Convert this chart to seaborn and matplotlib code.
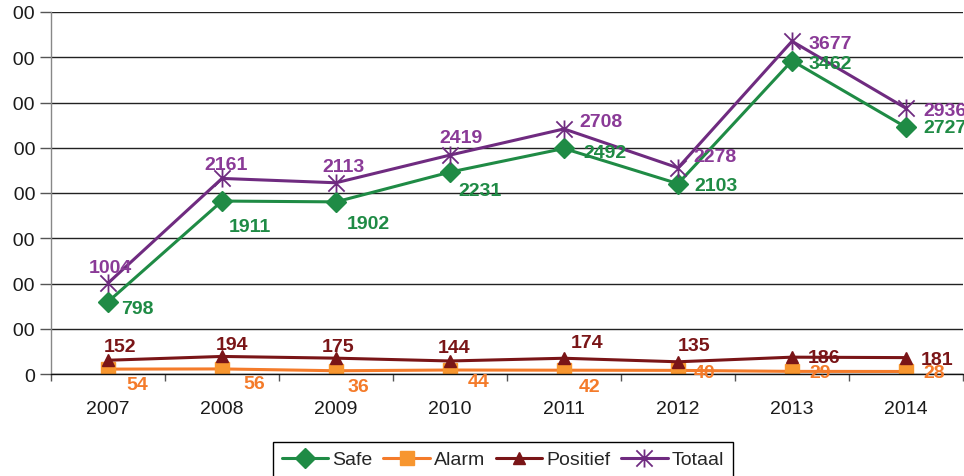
import numpy as np
import pandas as pd
import matplotlib
matplotlib.use("Agg")
import matplotlib.pyplot as plt
from matplotlib.path import Path
from matplotlib.patches import Rectangle
import seaborn as sns

# data
years = ["2007", "2008", "2009", "2010", "2011", "2012", "2013", "2014"]
safe = [798, 1911, 1902, 2231, 2492, 2103, 3462, 2727]
alarm = [54, 56, 36, 44, 42, 40, 29, 28]
positief = [152, 194, 175, 144, 174, 135, 186, 181]
totaal = [1004, 2161, 2113, 2419, 2708, 2278, 3677, 2936]
y_ticks = [0, 500, 1000, 1500, 2000, 2500, 3000, 3500, 4000]

df = pd.DataFrame({"jaar": years, "Safe": safe, "Alarm": alarm,
                   "Positief": positief, "Totaal": totaal})
df["pos"] = np.arange(len(df))

# label offsets in pixels (dx from point to left of text, dy down)
off_safe = [(13, 7), (7, 25), (11, 22), (8, 18), (19, 4), (16, 2), (17, 3), (17, 0)]
off_alarm = [(18, 15), (21, 15), (12, 16), (18, 11), (15, 16), (16, 2), (17, 1), (17, 1)]
off_pos = [(-4, -14), (-6, -12), (-14, -12), (-12, -13), (7, -16), (0, -16), (16, 0), (15, 2)]
off_tot = [(-19, -16), (-18, -14), (-14, -16), (-11, -18), (15, -7), (15, -11), (17, 2), (17, 2)]

sns.set_theme(style="white")
plt.rcParams['font.family'] = ['Liberation Sans', 'DejaVu Sans']

W, H = 964, 477
FS = 14
fig = plt.figure(figsize=(W / 100, H / 100), dpi=100)
ax = fig.add_axes([51 / W, 1 - 375 / H, (963 - 51) / W, (375 - 13) / H])

# asterisk marker: vertical bar + X
star = Path([(0, -1), (0, 1), (-0.9, -0.9), (0.9, 0.9), (-0.9, 0.9), (0.9, -0.9)],
            [Path.MOVETO, Path.LINETO] * 3)

series = [
    ("Safe", "#1F8B45", "D", 10, "#1F8B45", "#1F8B45", "#1F8B45", off_safe),
    ("Alarm", "#F47B2A", "s", 10.5, "#F7962F", "#F7962F", "#F47B2A", off_alarm),
    ("Positief", "#7A1517", "^", 8, "#7A1517", "#7A1517", "#7A1517", off_pos),
    ("Totaal", "#6F2B80", star, 13, "none", "#6F2B80", "#8A3A97", off_tot),
]

handles = []
for name, lc, mk, ms, mfc, mec, tc, offs in series:
    sns.lineplot(data=df, x="pos", y=name, ax=ax, color=lc, marker=mk,
                 markersize=ms, markerfacecolor=mfc, markeredgecolor=mec,
                 markeredgewidth=1.3 if name == "Totaal" else 1,
                 linewidth=2.2, legend=False)
    line = ax.lines[-1]
    line.set_label(name)
    handles.append(line)
    for xi, v, (dx, dy) in zip(df["pos"], df[name], offs):
        ax.annotate(str(v), (xi, v), xytext=(dx * 0.72, -dy * 0.72),
                    textcoords="offset points", ha="left", va="center",
                    fontsize=FS, fontweight="bold", color=tc,
                    annotation_clip=False, zorder=5)

ax.set_xlim(-0.5, 7.5)
ax.set_ylim(0, 4000)
ax.set_xlabel("")
ax.set_ylabel("")
ax.set_xticks(df["pos"])
ax.set_xticklabels(years)
ax.set_xticks(np.arange(-0.5, 8), minor=True)
ax.set_yticks(y_ticks)
ax.set_yticklabels([str(t) for t in y_ticks])
ax.yaxis.grid(True, color="#222222", linewidth=1)
ax.set_axisbelow(True)

ax.tick_params(axis="x", which="major", bottom=True, length=0, pad=19,
               labelsize=FS, labelcolor="#1a1a1a")
ax.tick_params(axis="x", which="minor", bottom=True, length=5, width=1,
               color="#555555", direction="out")
ax.tick_params(axis="y", left=True, length=8, width=1, color="#555555",
               direction="out", pad=3.5, labelsize=FS, labelcolor="#1a1a1a")

for s in ["top", "right"]:
    ax.spines[s].set_visible(False)
ax.spines["left"].set_color("#888888")
ax.spines["bottom"].set_color("#111111")
ax.spines["left"].set_linewidth(1)
ax.spines["bottom"].set_linewidth(1)

leg = fig.legend(handles=handles, labels=[h.get_label() for h in handles],
                 loc="upper left", bbox_to_anchor=(273 / W, 1 - 443 / H),
                 ncol=4, frameon=True, fancybox=False, edgecolor="black",
                 framealpha=1, borderaxespad=0, handlelength=2.4,
                 handletextpad=0.2, columnspacing=0.55, borderpad=0.45,
                 fontsize=FS)
leg.get_frame().set_linewidth(1.0)

# the y labels in the original are cut off at the left
fig.add_artist(Rectangle((0, 0), 13 / W, 1, transform=fig.transFigure,
                         facecolor="white", edgecolor="none", zorder=10))

fig.savefig("out.png", dpi=100)
